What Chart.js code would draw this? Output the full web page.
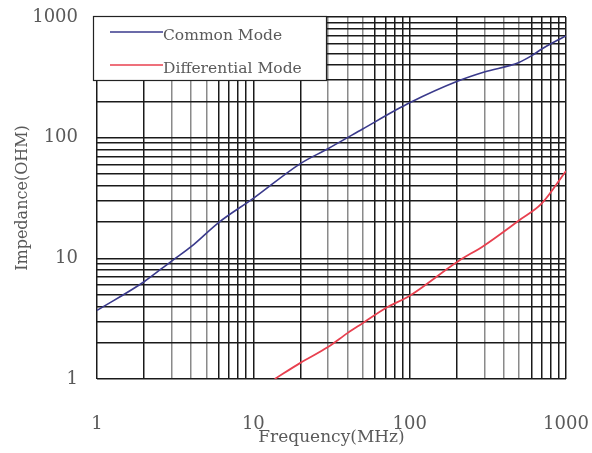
<!DOCTYPE html>
<html><head><meta charset="utf-8">
<script src="https://cdn.jsdelivr.net/npm/chart.js@4"></script>
<style>html,body{margin:0;padding:0;background:#fff}</style>
</head><body>
<canvas id="c" width="592" height="453"></canvas>
<script>
const commonFreq = [1, 2, 3, 4, 6, 10, 20, 30, 50, 80, 100, 200, 300, 500, 600, 700, 800, 1000];
const commonImp  = [3.7, 6.4, 9.5, 12.5, 19.8, 31.4, 61, 81, 118, 167, 195, 292, 350, 420, 476, 543, 600, 697];
const diffFreq = [13.7, 20, 30, 40, 50, 70, 100, 200, 300, 500, 700, 1000];
const diffImp  = [1, 1.36, 1.84, 2.4, 2.9, 3.86, 4.9, 9.3, 12.8, 20.6, 28.5, 53];
const gridValues = [1,2,3,4,5,6,7,8,9,10,20,30,40,50,60,70,80,90,100,200,300,400,500,600,700,800,900,1000];
const tickLabels = ['1', '10', '100', '1000'];
const seriesNames = ['Common Mode', 'Differential Mode'];

const FONT = 'DejaVu Serif';
const TXT = '#5a5a5a';

function pts(xs, ys) { return xs.map((x, i) => ({ x: x, y: ys[i] })); }
function setTicks(scale) { scale.ticks = gridValues.map(v => ({ value: v })); }
function labelFor(v) { const s = String(v); return tickLabels.includes(s) ? s : ''; }
function gridColor(ctx) {
  const v = ctx.tick ? ctx.tick.value : 1;
  const m = Math.round(v / Math.pow(10, Math.floor(Math.log10(v) + 1e-9)));
  return (m === 3 || m === 4 || m === 5) ? '#8a8a8a' : '#1a1a1a';
}

const legendPlugin = {
  id: 'boxLegend',
  afterDraw(chart) {
    const ctx = chart.ctx, a = chart.chartArea;
    const x0 = a.left - 4, y0 = a.top - 1, w = 233, h = 64;
    ctx.save();
    ctx.fillStyle = '#fff';
    ctx.fillRect(x0, y0, w, h);
    ctx.strokeStyle = '#222';
    ctx.lineWidth = 1.2;
    ctx.strokeRect(x0 + 0.5, y0 + 0.5, w, h);
    ctx.font = '15.5px "' + FONT + '"';
    ctx.textBaseline = 'middle';
    chart.data.datasets.forEach((ds, i) => {
      const ly = y0 + 16 + i * 33;
      ctx.strokeStyle = ds.borderColor;
      ctx.lineWidth = 1.5;
      ctx.beginPath();
      ctx.moveTo(x0 + 17, ly);
      ctx.lineTo(x0 + 70, ly);
      ctx.stroke();
      ctx.fillStyle = TXT;
      ctx.fillText(ds.label, x0 + 70, ly + 4);
    });
    ctx.restore();
  }
};

new Chart(document.getElementById('c'), {
  type: 'line',
  data: {
    datasets: [
      { label: seriesNames[0], data: pts(commonFreq, commonImp), borderColor: '#3a3a8c', borderWidth: 1.6, pointRadius: 0, cubicInterpolationMode: 'monotone', fill: false },
      { label: seriesNames[1], data: pts(diffFreq, diffImp), borderColor: '#e8404f', borderWidth: 1.8, pointRadius: 0, cubicInterpolationMode: 'monotone', fill: false }
    ]
  },
  options: {
    responsive: false,
    animation: false,
    devicePixelRatio: 1,
    layout: { padding: { left: 0, right: 26, top: 17, bottom: 0 } },
    plugins: { legend: { display: false }, tooltip: { enabled: false } },
    scales: {
      x: {
        type: 'logarithmic', min: 1, max: 1000, position: 'bottom',
        afterBuildTicks: setTicks,
        afterFit(s) { s.height = 74; s.paddingLeft = 0; s.paddingRight = 0; },
        border: { display: false },
        grid: { color: gridColor, lineWidth: 1.5, drawTicks: false },
        ticks: { autoSkip: false, maxRotation: 0, padding: 35, color: TXT, font: { family: FONT, size: 18 }, callback: labelFor },
        title: { display: true, text: 'Frequency(MHz)', color: TXT, font: { family: FONT, size: 17 }, padding: { top: 0, bottom: 5 } }
      },
      y: {
        type: 'logarithmic', min: 1, max: 1000,
        afterBuildTicks: setTicks,
        afterFit(s) { s.width = 97; s.paddingTop = 0; s.paddingBottom = 0; },
        border: { display: false },
        grid: { color: '#1a1a1a', lineWidth: 1.5, drawTicks: false },
        ticks: { autoSkip: false, padding: 19, color: TXT, font: { family: FONT, size: 18 }, callback: labelFor },
        title: { display: true, text: 'Impedance(OHM)', color: TXT, font: { family: FONT, size: 16 }, padding: { top: 13, bottom: 0 } }
      }
    }
  },
  plugins: [legendPlugin]
});
</script>
</body></html>
